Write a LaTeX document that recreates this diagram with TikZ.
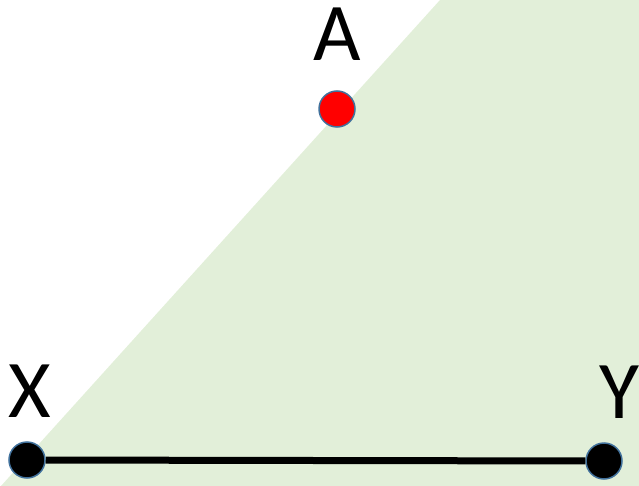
\documentclass[tikz,border=0pt]{standalone}
\usepackage{fontspec}
\setmainfont{Carlito}
\usetikzlibrary{positioning}
\definecolor{planegreen}{HTML}{E2EFD9}
\definecolor{pointedge}{HTML}{41719C}
\definecolor{pointred}{HTML}{FF0000}
\tikzset{
  pointdot/.style={
    circle,
    draw=pointedge,
    line width=1.5pt,
    fill=black,
    minimum size=36pt,
    inner sep=0pt
  },
  reddot/.style={pointdot, fill=pointred},
  pointlabel/.style={anchor=base, inner sep=0pt, font=\fontsize{82}{90}\selectfont},
  segment/.style={line width=7pt, draw=black}
}
\begin{document}
\begin{tikzpicture}[x=1pt, y=-1pt]
\useasboundingbox (0,0) rectangle (639,486);
% half plane
\fill[planegreen] (1,486) -- (440,0) -- (639,0) -- (639,486) -- cycle;

\node[pointdot] (x) at (27,460) {};
\node[pointdot] (y) at (604,461) {};
\node[reddot] (a) at (337,109) {};

\node[pointlabel] (xlab) at (30,417) {X};
\node[pointlabel] (ylab) at (619,418) {Y};
\node[pointlabel] (alab) at (337,61) {A};

\draw[segment] (x) -- (y);
\end{tikzpicture}
\end{document}
